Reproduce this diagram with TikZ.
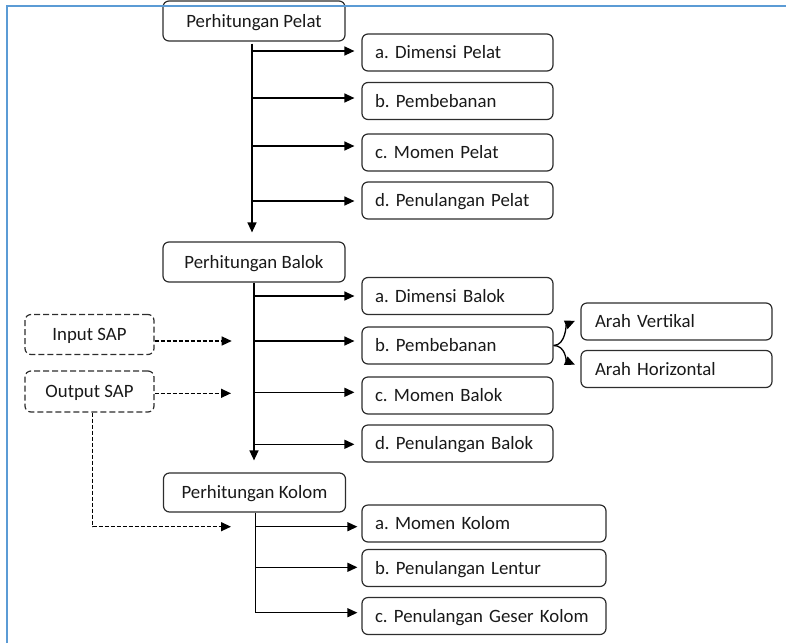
\documentclass[tikz,border=0pt]{standalone}
\usepackage{fontspec}
\setmainfont{Carlito}
\usetikzlibrary{arrows.meta}
\definecolor{frameblue}{RGB}{91,155,213}
\definecolor{boxline}{RGB}{45,45,45}
\definecolor{txt}{RGB}{25,25,25}
\frenchspacing
\begin{document}
\begin{tikzpicture}[x=1pt,y=-1pt,
  font=\fontsize{18.8}{22}\selectfont\frenchspacing,
  base/.style={draw=boxline, line width=1.2pt, rounded corners=6pt, text=txt, text height=12.5pt, text depth=0pt},
  mainbox/.style={base, minimum width=182pt, minimum height=40pt, inner sep=0pt, align=center},
  subbox/.style={base, minimum width=191pt, minimum height=37pt, inner xsep=13pt, inner ysep=0pt, text width=165pt, align=left},
  widebox/.style={subbox, minimum width=244pt, text width=218pt},
  arahbox/.style={subbox, inner xsep=14pt, text width=163pt},
  sapbox/.style={base, dash pattern=on 6pt off 3pt, minimum width=129pt, minimum height=40pt, inner sep=0pt, align=center},
  arr/.style={line width=1.3pt, -{Triangle[length=10pt,width=9pt]}},
  darr/.style={arr, dash pattern=on 4pt off 2pt},
  trunk/.style={line width=1.3pt},
]
\useasboundingbox (0,0) rectangle (786,643);

% main boxes
\node[mainbox] (pelat) at (254,21) {Perhitungan Pelat};
\node[mainbox] (balok) at (254,262) {Perhitungan Balok};
\node[mainbox, minimum height=39pt] (kolom) at (254.5,492.5) {Perhitungan Kolom};

% pelat children
\node[subbox] (pa) at (457.5,52.5) {a. Dimensi Pelat};
\node[subbox] (pb) at (457.5,101) {b. Pembebanan};
\node[subbox] (pc) at (457.5,152.5) {c. Momen Pelat};
\node[subbox] (pd) at (457.5,200.5) {d. Penulangan Pelat};

% balok children
\node[subbox] (ba) at (457.5,296) {a. Dimensi Balok};
\node[subbox] (bb) at (457.5,345.5) {b. Pembebanan};
\node[subbox] (bc) at (457.5,395.5) {c. Momen Balok};
\node[subbox] (bd) at (457.5,443.5) {d. Penulangan Balok};

% arah
\node[arahbox] (av) at (676.5,321.5) {Arah Vertikal};
\node[arahbox] (ah) at (676.5,369) {Arah Horizontal};

% kolom children
\node[widebox] (ka) at (484,523.5) {a. Momen Kolom};
\node[widebox] (kb) at (484,568) {b. Penulangan Lentur};
\node[widebox] (kc) at (484,616) {c. Penulangan Geser Kolom};

% SAP boxes
\node[sapbox] (inp) at (89.5,334.5) {Input SAP};
\node[sapbox, minimum height=41pt] (out) at (89.5,391.5) {Output SAP};

% pelat trunk and branches
\draw[arr, shorten <=2pt, shorten >=9pt] ([xshift=-2pt]pelat.south) -- ([xshift=-2pt]pelat.south |- balok.north);
\coordinate (p1) at (252,51);
\coordinate (p2) at (252,98);
\coordinate (p3) at (252,146);
\coordinate (p4) at (252,201);
\draw[arr, shorten >=7pt] (p1) -- (p1 -| pa.west);
\draw[arr, shorten >=7pt] (p2) -- (p2 -| pb.west);
\draw[arr, shorten >=7pt] (p3) -- (p3 -| pc.west);
\draw[arr, shorten >=7pt] (p4) -- (p4 -| pd.west);

% balok trunk and branches
\draw[arr, shorten >=12pt] (balok.south) -- (balok.south |- kolom.north);
\coordinate (b1) at (254,296);
\coordinate (b2) at (254,341);
\coordinate (b3) at (254,392.3);
\coordinate (b4) at (254,444.3);
\draw[arr, shorten >=7pt] (b1) -- (b1 -| ba.west);
\draw[arr, shorten >=7pt] (b2) -- (b2 -| bb.west);
\draw[arr, shorten >=7pt] (b3) -- (b3 -| bc.west);
\draw[arr, shorten >=7pt] (b4) -- (b4 -| bd.west);

% kolom trunk and branches
\coordinate (k1) at (255.7,526.7);
\coordinate (k2) at (255.7,567.3);
\coordinate (k3) at (255.7,612.7);
\draw[trunk] ([xshift=1.2pt]kolom.south) -- (k3);
\draw[arr, shorten >=4pt] (k1) -- (k1 -| ka.west);
\draw[arr, shorten >=4pt] (k2) -- (k2 -| kb.west);
\draw[arr, shorten >=4pt] (k3) -- (k3 -| kc.west);

% arah curves
\draw[arr, shorten >=6pt] (bb.east) .. controls +(12,0) and +(-14,6) .. ([yshift=3pt]av.west);
\draw[arr, shorten >=6pt] (bb.east) .. controls +(12,0) and +(-14,-6) .. ([yshift=2pt]ah.west);

% SAP dashed arrows
\coordinate (ie) at (231.7,341);
\coordinate (oe) at (231,393.3);
\coordinate (ke) at (231,526.7);
\draw[darr] (inp.east |- ie) -- (ie);
\draw[darr] (out.east |- oe) -- (oe);
\draw[darr] ([xshift=3.2pt]out.south) |- (ke);

% frame
\draw[frameblue, line width=2pt] (6.5,643) -- (6.5,6) -- (786,6);
\end{tikzpicture}
\end{document}
